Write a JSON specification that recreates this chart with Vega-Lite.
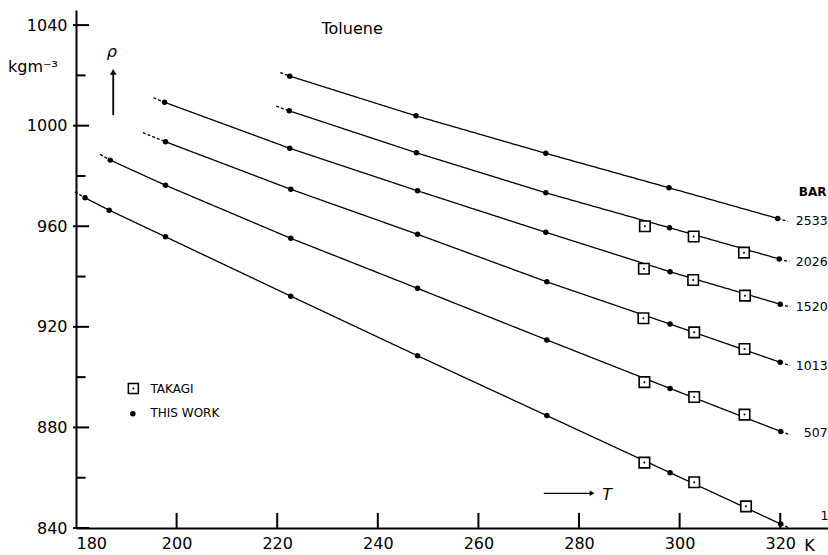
{
  "$schema": "https://vega.github.io/schema/vega-lite/v6.json",
  "width": 752,
  "height": 518,
  "autosize": {"type": "none"},
  "padding": {"left": 76, "top": 10, "right": 0, "bottom": 27},
  "background": "white",
  "config": {
    "view": {"stroke": null},
    "font": "DejaVu Sans",
    "axis": {
      "domainColor": "black",
      "domainWidth": 2,
      "labelColor": "black",
      "labelFont": "DejaVu Sans",
      "labelFontSize": 16,
      "grid": false
    }
  },
  "datasets": {
    "lines": [
      {"p": "1", "seg": "a", "T": 179.8, "rho": 973.7},
      {"p": "1", "seg": "a", "T": 181.8, "rho": 971.3},
      {"p": "1", "seg": "m", "T": 181.8, "rho": 971.3},
      {"p": "1", "seg": "m", "T": 186.6, "rho": 966.4},
      {"p": "1", "seg": "m", "T": 197.8, "rho": 955.8},
      {"p": "1", "seg": "m", "T": 222.7, "rho": 932.2},
      {"p": "1", "seg": "m", "T": 247.9, "rho": 908.5},
      {"p": "1", "seg": "m", "T": 273.6, "rho": 884.7},
      {"p": "1", "seg": "m", "T": 298.1, "rho": 862.0},
      {"p": "1", "seg": "m", "T": 320.1, "rho": 841.6},
      {"p": "1", "seg": "b", "T": 320.1, "rho": 841.6},
      {"p": "1", "seg": "b", "T": 321.6, "rho": 840.2},

      {"p": "507", "seg": "a", "T": 184.8, "rho": 988.6},
      {"p": "507", "seg": "a", "T": 186.8, "rho": 986.3},
      {"p": "507", "seg": "m", "T": 186.8, "rho": 986.3},
      {"p": "507", "seg": "m", "T": 197.8, "rho": 976.3},
      {"p": "507", "seg": "m", "T": 222.7, "rho": 955.2},
      {"p": "507", "seg": "m", "T": 247.9, "rho": 935.3},
      {"p": "507", "seg": "m", "T": 273.6, "rho": 914.8},
      {"p": "507", "seg": "m", "T": 298.1, "rho": 895.5},
      {"p": "507", "seg": "m", "T": 320.1, "rho": 878.4},
      {"p": "507", "seg": "b", "T": 320.1, "rho": 878.4},
      {"p": "507", "seg": "b", "T": 322.0, "rho": 877.0},

      {"p": "1013", "seg": "a", "T": 193.3, "rho": 997.2},
      {"p": "1013", "seg": "a", "T": 197.8, "rho": 993.6},
      {"p": "1013", "seg": "m", "T": 197.8, "rho": 993.6},
      {"p": "1013", "seg": "m", "T": 222.7, "rho": 974.7},
      {"p": "1013", "seg": "m", "T": 247.9, "rho": 956.8},
      {"p": "1013", "seg": "m", "T": 273.6, "rho": 937.9},
      {"p": "1013", "seg": "m", "T": 298.1, "rho": 921.1},
      {"p": "1013", "seg": "m", "T": 320.0, "rho": 905.9},
      {"p": "1013", "seg": "b", "T": 320.0, "rho": 905.9},
      {"p": "1013", "seg": "b", "T": 322.0, "rho": 904.6},

      {"p": "1520", "seg": "a", "T": 195.4, "rho": 1011.1},
      {"p": "1520", "seg": "a", "T": 197.6, "rho": 1009.3},
      {"p": "1520", "seg": "m", "T": 197.6, "rho": 1009.3},
      {"p": "1520", "seg": "m", "T": 222.5, "rho": 991.0},
      {"p": "1520", "seg": "m", "T": 247.9, "rho": 974.1},
      {"p": "1520", "seg": "m", "T": 273.4, "rho": 957.6},
      {"p": "1520", "seg": "m", "T": 298.1, "rho": 941.9},
      {"p": "1520", "seg": "m", "T": 320.0, "rho": 929.0},
      {"p": "1520", "seg": "b", "T": 320.0, "rho": 929.0},
      {"p": "1520", "seg": "b", "T": 322.0, "rho": 927.9},

      {"p": "2026", "seg": "a", "T": 219.8, "rho": 1007.8},
      {"p": "2026", "seg": "a", "T": 222.4, "rho": 1005.9},
      {"p": "2026", "seg": "m", "T": 222.4, "rho": 1005.9},
      {"p": "2026", "seg": "m", "T": 247.7, "rho": 989.2},
      {"p": "2026", "seg": "m", "T": 273.4, "rho": 973.3},
      {"p": "2026", "seg": "m", "T": 298.0, "rho": 959.4},
      {"p": "2026", "seg": "m", "T": 319.8, "rho": 947.0},
      {"p": "2026", "seg": "b", "T": 319.8, "rho": 947.0},
      {"p": "2026", "seg": "b", "T": 321.8, "rho": 945.9},

      {"p": "2533", "seg": "a", "T": 220.6, "rho": 1021.1},
      {"p": "2533", "seg": "a", "T": 222.5, "rho": 1019.7},
      {"p": "2533", "seg": "m", "T": 222.5, "rho": 1019.7},
      {"p": "2533", "seg": "m", "T": 247.6, "rho": 1003.9},
      {"p": "2533", "seg": "m", "T": 273.4, "rho": 989.0},
      {"p": "2533", "seg": "m", "T": 297.9, "rho": 975.3},
      {"p": "2533", "seg": "m", "T": 319.5, "rho": 963.1},
      {"p": "2533", "seg": "b", "T": 319.5, "rho": 963.1},
      {"p": "2533", "seg": "b", "T": 321.5, "rho": 962.0}
    ],
    "takagi": [
      {"p": "1", "T": 293.0, "rho": 866.0},
      {"p": "1", "T": 302.9, "rho": 858.2},
      {"p": "1", "T": 313.2, "rho": 848.6},
      {"p": "507", "T": 293.0, "rho": 898.0},
      {"p": "507", "T": 302.9, "rho": 892.1},
      {"p": "507", "T": 312.9, "rho": 885.1},
      {"p": "1013", "T": 292.8, "rho": 923.4},
      {"p": "1013", "T": 302.9, "rho": 917.8},
      {"p": "1013", "T": 312.9, "rho": 911.2},
      {"p": "1520", "T": 292.9, "rho": 943.1},
      {"p": "1520", "T": 302.7, "rho": 938.6},
      {"p": "1520", "T": 313.0, "rho": 932.4},
      {"p": "2026", "T": 293.1, "rho": 960.0},
      {"p": "2026", "T": 302.8, "rho": 955.9},
      {"p": "2026", "T": 312.8, "rho": 949.5}
    ]
  },
  "layer": [
    {
      "data": {"name": "lines"},
      "mark": {"type": "line", "color": "black", "strokeWidth": 1.3},
      "encoding": {
        "x": {
          "field": "T", "type": "quantitative",
          "scale": {"domain": [180, 329.5], "nice": false, "zero": false},
          "axis": {"orient": "bottom", "values": [180, 200, 220, 240, 260, 280, 300, 320], "ticks": false, "labelPadding": 7, "labelFlush": true, "format": "d", "title": null}
        },
        "y": {
          "field": "rho", "type": "quantitative",
          "scale": {"domain": [840, 1046], "nice": false, "zero": false},
          "axis": {"orient": "left", "values": [840, 880, 920, 960, 1000, 1040], "ticks": false, "labelPadding": 9, "format": "d", "title": null}
        },
        "detail": {"field": "p"},
        "strokeDash": {"field": "seg", "type": "nominal", "scale": {"domain": ["a", "m", "b"], "range": [[3, 2], [1, 0], [3, 2]]}, "legend": null}
      }
    },
    {
      "data": {"name": "takagi"},
      "mark": {"type": "point", "shape": "square", "size": 110, "filled": true, "fill": "white", "stroke": "black", "strokeWidth": 1.6, "opacity": 1},
      "encoding": {
        "x": {"field": "T", "type": "quantitative", "axis": null},
        "y": {"field": "rho", "type": "quantitative", "axis": null}
      }
    },
    {
      "data": {"name": "takagi"},
      "mark": {"type": "circle", "size": 4, "color": "black", "opacity": 1},
      "encoding": {
        "x": {"field": "T", "type": "quantitative", "axis": null},
        "y": {"field": "rho", "type": "quantitative", "axis": null}
      }
    },
    {
      "data": {"name": "lines"},
      "transform": [{"filter": "datum.seg == 'm'"}],
      "mark": {"type": "circle", "size": 30, "color": "black", "opacity": 1},
      "encoding": {
        "x": {"field": "T", "type": "quantitative", "axis": null},
        "y": {"field": "rho", "type": "quantitative", "axis": null}
      }
    },
    {
      "data": {"values": [{"T": 191.4, "rho": 895.5}]},
      "mark": {"type": "point", "shape": "square", "size": 100, "filled": true, "fill": "white", "stroke": "black", "strokeWidth": 1.5, "opacity": 1},
      "encoding": {
        "x": {"field": "T", "type": "quantitative", "axis": null},
        "y": {"field": "rho", "type": "quantitative", "axis": null}
      }
    },
    {
      "data": {"values": [{"T": 191.4, "rho": 895.5}]},
      "mark": {"type": "circle", "size": 4, "color": "black", "opacity": 1},
      "encoding": {
        "x": {"field": "T", "type": "quantitative", "axis": null},
        "y": {"field": "rho", "type": "quantitative", "axis": null}
      }
    },
    {
      "data": {"values": [{"T": 191.3, "rho": 885.4}]},
      "mark": {"type": "circle", "size": 30, "color": "black", "opacity": 1},
      "encoding": {
        "x": {"field": "T", "type": "quantitative", "axis": null},
        "y": {"field": "rho", "type": "quantitative", "axis": null}
      }
    },
    {
      "data": {"values": [
        {"T": 194.8, "rho": 895.3, "label": "TAKAGI"},
        {"T": 194.8, "rho": 885.8, "label": "THIS WORK"}
      ]},
      "mark": {"type": "text", "align": "left", "baseline": "middle", "fontSize": 12, "font": "DejaVu Sans", "color": "black"},
      "encoding": {
        "x": {"field": "T", "type": "quantitative", "axis": null},
        "y": {"field": "rho", "type": "quantitative", "axis": null},
        "text": {"field": "label"}
      }
    },
    {
      "data": {"values": [
        {"T": 323.1, "rho": 962.2, "label": "2533"},
        {"T": 323.1, "rho": 945.9, "label": "2026"},
        {"T": 323.1, "rho": 928.0, "label": "1520"},
        {"T": 323.1, "rho": 904.5, "label": "1013"},
        {"T": 324.7, "rho": 877.8, "label": "507"},
        {"T": 328.0, "rho": 844.8, "label": "1"}
      ]},
      "mark": {"type": "text", "align": "left", "baseline": "middle", "fontSize": 12.5, "font": "DejaVu Sans", "color": "black"},
      "encoding": {
        "x": {"field": "T", "type": "quantitative", "axis": null},
        "y": {"field": "rho", "type": "quantitative", "axis": null},
        "text": {"field": "label"}
      }
    },
    {
      "data": {"values": [{"T": 323.7, "rho": 973.7, "label": "BAR"}]},
      "mark": {"type": "text", "align": "left", "baseline": "middle", "fontSize": 12, "fontWeight": "bold", "font": "DejaVu Sans", "color": "black"},
      "encoding": {
        "x": {"field": "T", "type": "quantitative", "axis": null},
        "y": {"field": "rho", "type": "quantitative", "axis": null},
        "text": {"field": "label"}
      }
    },
    {
      "data": {"values": [
        {"T": 234.9, "rho": 1038.3, "label": "Toluene"},
        {"T": 325.8, "rho": 832.8, "label": "K"}
      ]},
      "mark": {"type": "text", "align": "center", "baseline": "middle", "fontSize": 16, "font": "DejaVu Sans", "color": "black"},
      "encoding": {
        "x": {"field": "T", "type": "quantitative", "axis": null},
        "y": {"field": "rho", "type": "quantitative", "axis": null},
        "text": {"field": "label"}
      }
    },
    {
      "data": {"values": [{"T": 166.5, "rho": 1023.3, "label": "kgm⁻³"}]},
      "mark": {"type": "text", "align": "left", "baseline": "middle", "fontSize": 16, "font": "DejaVu Sans", "color": "black"},
      "encoding": {
        "x": {"field": "T", "type": "quantitative", "axis": null},
        "y": {"field": "rho", "type": "quantitative", "axis": null},
        "text": {"field": "label"}
      }
    },
    {
      "data": {"values": [
        {"T": 187.1, "rho": 1029.4, "label": "ρ"},
        {"T": 285.6, "rho": 853.1, "label": "T"}
      ]},
      "mark": {"type": "text", "align": "center", "baseline": "middle", "fontSize": 16, "fontStyle": "italic", "font": "DejaVu Sans", "color": "black"},
      "encoding": {
        "x": {"field": "T", "type": "quantitative", "axis": null},
        "y": {"field": "rho", "type": "quantitative", "axis": null},
        "text": {"field": "label"}
      }
    },
    {
      "data": {"values": [{"T": 187.4, "rho": 1004.2, "rho2": 1020.5}]},
      "mark": {"type": "rule", "color": "black", "strokeWidth": 1.8},
      "encoding": {
        "x": {"field": "T", "type": "quantitative", "axis": null},
        "y": {"field": "rho", "type": "quantitative", "axis": null},
        "y2": {"field": "rho2"}
      }
    },
    {
      "data": {"values": [{"T": 187.4, "rho": 1021.4}]},
      "mark": {"type": "point", "shape": "triangle-up", "size": 45, "filled": true, "color": "black", "opacity": 1},
      "encoding": {
        "x": {"field": "T", "type": "quantitative", "axis": null},
        "y": {"field": "rho", "type": "quantitative", "axis": null}
      }
    },
    {
      "data": {"values": [{"T": 273.0, "T2": 282.3, "rho": 853.8}]},
      "mark": {"type": "rule", "color": "black", "strokeWidth": 1.3},
      "encoding": {
        "x": {"field": "T", "type": "quantitative", "axis": null},
        "x2": {"field": "T2"},
        "y": {"field": "rho", "type": "quantitative", "axis": null}
      }
    },
    {
      "data": {"values": [{"T": 282.6, "rho": 853.8}]},
      "mark": {"type": "point", "shape": "triangle-right", "size": 30, "filled": true, "color": "black", "opacity": 1},
      "encoding": {
        "x": {"field": "T", "type": "quantitative", "axis": null},
        "y": {"field": "rho", "type": "quantitative", "axis": null}
      }
    },
    {
      "data": {"values": [{"T": 200}, {"T": 220}, {"T": 240}, {"T": 260}, {"T": 280}, {"T": 300}, {"T": 320}]},
      "mark": {"type": "rule", "color": "black", "strokeWidth": 2},
      "encoding": {
        "x": {"field": "T", "type": "quantitative", "axis": null},
        "y": {"datum": 840, "type": "quantitative", "axis": null},
        "y2": {"datum": 846}
      }
    },
    {
      "data": {"values": [{"rho": 840}, {"rho": 880}, {"rho": 920}, {"rho": 960}, {"rho": 1000}, {"rho": 1040}]},
      "mark": {"type": "rule", "color": "black", "strokeWidth": 2},
      "encoding": {
        "x": {"datum": 179.4, "type": "quantitative", "axis": null},
        "x2": {"datum": 182.6},
        "y": {"field": "rho", "type": "quantitative", "axis": null}
      }
    },
    {
      "data": {"values": [{"rho": 860}, {"rho": 900}, {"rho": 940}, {"rho": 980}, {"rho": 1020}]},
      "mark": {"type": "rule", "color": "black", "strokeWidth": 2},
      "encoding": {
        "x": {"datum": 180, "type": "quantitative", "axis": null},
        "x2": {"datum": 181.9},
        "y": {"field": "rho", "type": "quantitative", "axis": null}
      }
    }
  ],
  "resolve": {"axis": {"x": "independent", "y": "independent"}}
}
